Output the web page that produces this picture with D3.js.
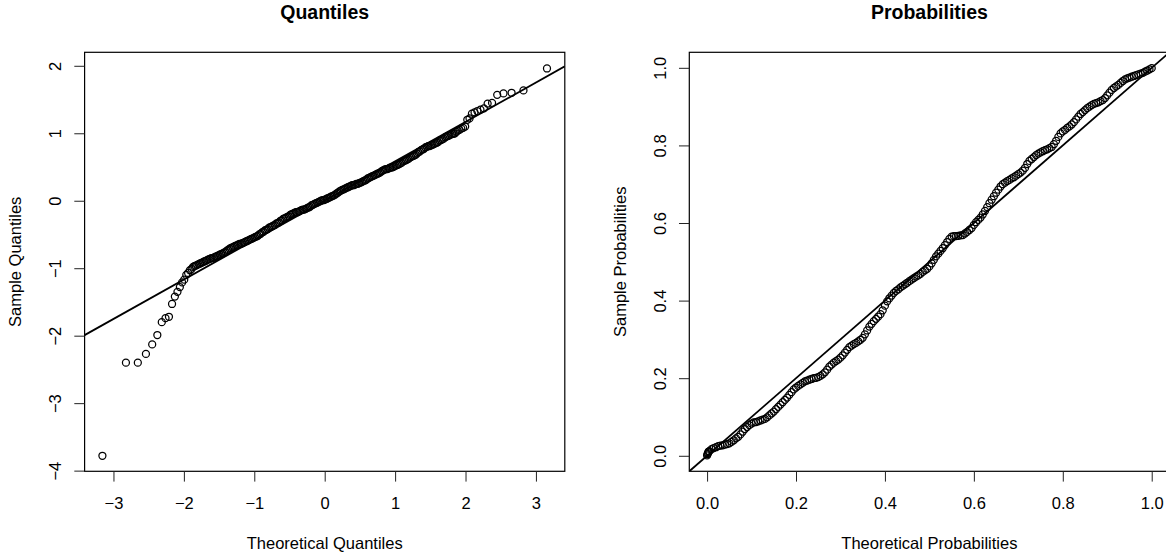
<!DOCTYPE html>
<html>
<head>
<meta charset="utf-8">
<script src="https://cdn.jsdelivr.net/npm/d3@7"></script>
<style>
  html, body { margin: 0; padding: 0; background: #fff; }
  svg { display: block; font-family: "Liberation Sans", Arial, Helvetica, sans-serif; }
</style>
</head>
<body>
<svg id="chart" width="1166" height="555"></svg>
<script>
// ---------------- data ----------------
// Q-Q panel: theoretical quantile (x) and sample quantile (y) of each point
const qqTheoretical = [
  -3.157, -2.823, -2.654, -2.539, -2.450, -2.377, -2.314, -2.261, -2.212, -2.168,
  -2.128, -2.091, -2.057, -2.025, -1.995, -1.966, -1.940, -1.914, -1.890,
  -1.87, -1.85, -1.83, -1.81, -1.79, -1.77, -1.75, -1.73, -1.71, -1.69,
  -1.67, -1.65, -1.63, -1.61, -1.59, -1.57, -1.55, -1.53, -1.51, -1.49,
  -1.47, -1.45, -1.43, -1.41, -1.39, -1.37, -1.35, -1.33, -1.31, -1.29,
  -1.27, -1.25, -1.23, -1.21, -1.19, -1.17, -1.15, -1.13, -1.11, -1.09,
  -1.07, -1.05, -1.03, -1.01, -0.99, -0.97, -0.95, -0.93, -0.91, -0.89,
  -0.87, -0.85, -0.83, -0.81, -0.79, -0.77, -0.75, -0.73, -0.71, -0.69,
  -0.67, -0.65, -0.63, -0.61, -0.59, -0.57, -0.55, -0.53, -0.51, -0.49,
  -0.47, -0.45, -0.43, -0.41, -0.39, -0.37, -0.35, -0.33, -0.31, -0.29,
  -0.27, -0.25, -0.23, -0.21, -0.19, -0.17, -0.15, -0.13, -0.11, -0.09,
  -0.07, -0.05, -0.03, -0.01, 0.01, 0.03, 0.05, 0.07, 0.09, 0.11,
  0.13, 0.15, 0.17, 0.19, 0.21, 0.23, 0.25, 0.27, 0.29, 0.31,
  0.33, 0.35, 0.37, 0.39, 0.41, 0.43, 0.45, 0.47, 0.49, 0.51,
  0.53, 0.55, 0.57, 0.59, 0.61, 0.63, 0.65, 0.67, 0.69, 0.71,
  0.73, 0.75, 0.77, 0.79, 0.81, 0.83, 0.85, 0.87, 0.89, 0.91,
  0.93, 0.95, 0.97, 0.99, 1.01, 1.03, 1.05, 1.07, 1.09, 1.11,
  1.13, 1.15, 1.17, 1.19, 1.21, 1.23, 1.25, 1.27, 1.29, 1.31,
  1.33, 1.35, 1.37, 1.39, 1.41, 1.43, 1.45, 1.47, 1.49, 1.51,
  1.53, 1.55, 1.57, 1.59, 1.61, 1.63, 1.65, 1.67, 1.69, 1.71,
  1.73, 1.75, 1.77, 1.79, 1.81, 1.83, 1.85, 1.87,
  1.890, 1.914, 1.940, 1.966, 1.995, 2.025, 2.057, 2.091, 2.128, 2.168,
  2.212, 2.261, 2.314, 2.377, 2.450, 2.539, 2.654, 2.823, 3.157
];
const qqSample = [
  -3.78, -2.40, -2.40, -2.27, -2.13, -1.99, -1.80, -1.74, -1.72, -1.53,
  -1.42, -1.35, -1.28, -1.21, -1.17, -1.10, -1.07, -1.03, -1.01,
  -0.98, -0.97, -0.96, -0.95, -0.94, -0.93, -0.92, -0.91, -0.90, -0.89,
  -0.88, -0.87, -0.86, -0.85, -0.85, -0.84, -0.83, -0.82, -0.81, -0.80,
  -0.79, -0.78, -0.77, -0.76, -0.74, -0.73, -0.71, -0.70, -0.69, -0.68,
  -0.67, -0.66, -0.65, -0.64, -0.64, -0.63, -0.62, -0.61, -0.60, -0.59,
  -0.58, -0.57, -0.56, -0.55, -0.54, -0.53, -0.52, -0.50, -0.49, -0.47,
  -0.46, -0.44, -0.43, -0.42, -0.40, -0.39, -0.38, -0.37, -0.36, -0.34,
  -0.33, -0.32, -0.30, -0.29, -0.27, -0.26, -0.25, -0.24, -0.23, -0.21,
  -0.20, -0.19, -0.18, -0.17, -0.17, -0.16, -0.15, -0.14, -0.13, -0.13,
  -0.12, -0.11, -0.10, -0.09, -0.07, -0.06, -0.05, -0.04, -0.03, -0.02,
  -0.01, 0.00, 0.01, 0.01, 0.02, 0.03, 0.04, 0.05, 0.06, 0.07,
  0.08, 0.09, 0.11, 0.12, 0.14, 0.15, 0.16, 0.17, 0.18, 0.19,
  0.20, 0.21, 0.22, 0.23, 0.23, 0.24, 0.25, 0.25, 0.26, 0.27,
  0.28, 0.29, 0.30, 0.31, 0.33, 0.34, 0.35, 0.36, 0.37, 0.38,
  0.39, 0.40, 0.41, 0.42, 0.44, 0.45, 0.46, 0.47, 0.47, 0.48,
  0.49, 0.49, 0.50, 0.51, 0.52, 0.53, 0.54, 0.55, 0.56, 0.58,
  0.59, 0.60, 0.61, 0.62, 0.64, 0.65, 0.66, 0.67, 0.68, 0.70,
  0.72, 0.73, 0.75, 0.76, 0.77, 0.79, 0.80, 0.81, 0.81, 0.82,
  0.83, 0.84, 0.85, 0.86, 0.87, 0.89, 0.90, 0.91, 0.92, 0.94,
  0.95, 0.96, 0.97, 0.98, 0.99, 0.99, 1.00, 1.02,
  1.04, 1.05, 1.07, 1.08, 1.10, 1.20, 1.22, 1.29, 1.31, 1.33,
  1.35, 1.37, 1.44, 1.45, 1.57, 1.59, 1.60, 1.635, 1.96
];
const qqLineIntercept = 0.0;
const qqLineSlope = 0.584;

// P-P panel: theoretical probability (x) and sample probability (y) of each point
const ppTheoretical = [
  0.000, 0.001, 0.002, 0.003, 0.004,
  0.005, 0.010, 0.015, 0.020, 0.025, 0.030, 0.035, 0.040, 0.045, 0.050,
  0.055, 0.060, 0.065, 0.070, 0.075, 0.080, 0.085, 0.090, 0.095, 0.100,
  0.105, 0.110, 0.115, 0.120, 0.125, 0.130, 0.135, 0.140, 0.145, 0.150,
  0.155, 0.160, 0.165, 0.170, 0.175, 0.180, 0.185, 0.190, 0.195, 0.200,
  0.205, 0.210, 0.215, 0.220, 0.225, 0.230, 0.235, 0.240, 0.245, 0.250,
  0.255, 0.260, 0.265, 0.270, 0.275, 0.280, 0.285, 0.290, 0.295, 0.300,
  0.305, 0.310, 0.315, 0.320, 0.325, 0.330, 0.335, 0.340, 0.345, 0.350,
  0.355, 0.360, 0.365, 0.370, 0.375, 0.380, 0.385, 0.390, 0.395, 0.400,
  0.405, 0.410, 0.415, 0.420, 0.425, 0.430, 0.435, 0.440, 0.445, 0.450,
  0.455, 0.460, 0.465, 0.470, 0.475, 0.480, 0.485, 0.490, 0.495, 0.500,
  0.505, 0.510, 0.515, 0.520, 0.525, 0.530, 0.535, 0.540, 0.545, 0.550,
  0.555, 0.560, 0.565, 0.570, 0.575, 0.580, 0.585, 0.590, 0.595, 0.600,
  0.605, 0.610, 0.615, 0.620, 0.625, 0.630, 0.635, 0.640, 0.645, 0.650,
  0.655, 0.660, 0.665, 0.670, 0.675, 0.680, 0.685, 0.690, 0.695, 0.700,
  0.705, 0.710, 0.715, 0.720, 0.725, 0.730, 0.735, 0.740, 0.745, 0.750,
  0.755, 0.760, 0.765, 0.770, 0.775, 0.780, 0.785, 0.790, 0.795, 0.800,
  0.805, 0.810, 0.815, 0.820, 0.825, 0.830, 0.835, 0.840, 0.845, 0.850,
  0.855, 0.860, 0.865, 0.870, 0.875, 0.880, 0.885, 0.890, 0.895, 0.900,
  0.905, 0.910, 0.915, 0.920, 0.925, 0.930, 0.935, 0.940, 0.945, 0.950,
  0.955, 0.960, 0.965, 0.970, 0.975, 0.980, 0.985, 0.990, 0.995, 1.000
];
const ppSample = [
  0.001, 0.004, 0.007, 0.010, 0.011,
  0.012, 0.017, 0.020, 0.022, 0.025, 0.026, 0.027, 0.029, 0.030, 0.032,
  0.036, 0.040, 0.045, 0.049, 0.055, 0.062, 0.069, 0.074, 0.079, 0.083,
  0.086, 0.087, 0.089, 0.091, 0.093, 0.095, 0.099, 0.104, 0.109, 0.114,
  0.120, 0.126, 0.132, 0.138, 0.144, 0.150, 0.157, 0.164, 0.171, 0.176,
  0.180, 0.184, 0.188, 0.192, 0.194, 0.196, 0.198, 0.200, 0.201, 0.203,
  0.206, 0.210, 0.215, 0.222, 0.230, 0.235, 0.240, 0.244, 0.248, 0.253,
  0.259, 0.266, 0.273, 0.280, 0.284, 0.288, 0.291, 0.295, 0.299, 0.304,
  0.313, 0.323, 0.333, 0.340, 0.347, 0.353, 0.359, 0.365, 0.375, 0.387,
  0.398, 0.406, 0.413, 0.420, 0.425, 0.429, 0.434, 0.438, 0.442, 0.446,
  0.450, 0.454, 0.458, 0.462, 0.465, 0.469, 0.474, 0.478, 0.482, 0.488,
  0.496, 0.505, 0.514, 0.521, 0.528, 0.535, 0.543, 0.551, 0.559, 0.565,
  0.566, 0.566, 0.567, 0.568, 0.569, 0.573, 0.577, 0.582, 0.587, 0.595,
  0.602, 0.608, 0.614, 0.622, 0.631, 0.641, 0.651, 0.660, 0.669, 0.678,
  0.686, 0.694, 0.700, 0.704, 0.708, 0.711, 0.715, 0.718, 0.722, 0.726,
  0.730, 0.735, 0.742, 0.752, 0.760, 0.765, 0.770, 0.775, 0.779, 0.782,
  0.785, 0.788, 0.790, 0.793, 0.796, 0.803, 0.812, 0.822, 0.831, 0.836,
  0.840, 0.845, 0.849, 0.854, 0.860, 0.867, 0.874, 0.881, 0.886, 0.891,
  0.896, 0.900, 0.904, 0.907, 0.909, 0.911, 0.914, 0.917, 0.922, 0.929,
  0.936, 0.943, 0.948, 0.952, 0.956, 0.961, 0.966, 0.970, 0.973, 0.975,
  0.977, 0.979, 0.981, 0.983, 0.985, 0.987, 0.990, 0.993, 0.996, 0.999
];
const ppLineIntercept = 0;
const ppLineSlope = 1;

const qqXTicks = [-3, -2, -1, 0, 1, 2, 3];
const qqYTicks = [-4, -3, -2, -1, 0, 1, 2];
const ppTicks = [0, 0.2, 0.4, 0.6, 0.8, 1.0];

const titles = ["Quantiles", "Probabilities"];
const xTitles = ["Theoretical Quantiles", "Theoretical Probabilities"];
const yTitles = ["Sample Quantiles", "Sample Probabilities"];

// ---------------- drawing ----------------
const svg = d3.select("#chart");
const plotTop = 52.3, plotBottom = 471.3;
const panels = [
  { left: 84.6, right: 564.8, xDom: [-3.41, 3.41], yDom: [-4.01, 2.20],
    xt: qqXTicks, yt: qqYTicks, fmt: d => d3.format("d")(d).replace("-", "\u2212"),
    xs: qqTheoretical, ys: qqSample, a: qqLineIntercept, b: qqLineSlope },
  { left: 689.3, right: 1169.5, xDom: [-0.04, 1.04], yDom: [-0.04, 1.04],
    xt: ppTicks, yt: ppTicks, fmt: d3.format(".1f"),
    xs: ppTheoretical, ys: ppSample, a: ppLineIntercept, b: ppLineSlope }
];

panels.forEach((p, i) => {
  const x = d3.scaleLinear().domain(p.xDom).range([p.left, p.right]);
  const y = d3.scaleLinear().domain(p.yDom).range([plotBottom, plotTop]);
  const g = svg.append("g");
  const cid = "clip" + i;
  svg.append("clipPath").attr("id", cid).append("rect")
    .attr("x", p.left).attr("y", plotTop).attr("width", p.right - p.left).attr("height", plotBottom - plotTop);

  const n = Math.min(p.xs.length, p.ys.length);
  const data = d3.range(n).map(k => [p.xs[k], p.ys[k]]);
  g.append("g").selectAll("circle").data(data).join("circle")
    .attr("cx", d => x(d[0])).attr("cy", d => y(d[1])).attr("r", 3.5)
    .attr("fill", "none").attr("stroke", "#000").attr("stroke-width", 1.25);

  const x0 = p.xDom[0], x1 = p.xDom[1];
  g.append("line").attr("clip-path", `url(#${cid})`)
    .attr("x1", x(x0)).attr("y1", y(p.a + p.b * x0))
    .attr("x2", x(x1)).attr("y2", y(p.a + p.b * x1))
    .attr("stroke", "#000").attr("stroke-width", 1.8);

  g.append("rect").attr("x", p.left).attr("y", plotTop)
    .attr("width", p.right - p.left).attr("height", plotBottom - plotTop)
    .attr("fill", "none").attr("stroke", "#000").attr("stroke-width", 1.2);

  const xa = g.append("g").attr("transform", `translate(0,${plotBottom})`)
    .call(d3.axisBottom(x).tickValues(p.xt).tickSize(10.3).tickPadding(0).tickFormat(p.fmt));
  const ya = g.append("g").attr("transform", `translate(${p.left},0)`)
    .call(d3.axisLeft(y).tickValues(p.yt).tickSize(10.3).tickPadding(0).tickFormat(p.fmt));
  [xa, ya].forEach(a => {
    a.select(".domain").remove();
    a.selectAll(".tick line").attr("stroke", "#222").attr("stroke-width", 1);
    a.selectAll(".tick text").attr("fill", "#000")
      .style("font-size", "16.5px").style("font-family", '"Liberation Sans", Arial, sans-serif');
  });
  xa.selectAll(".tick text").attr("y", 0).attr("dy", 0)
    .attr("transform", "translate(0,31.4)").attr("dominant-baseline", "central");
  ya.selectAll(".tick text").attr("x", 0).attr("dy", 0)
    .attr("transform", "translate(-23.5,0) rotate(-90)")
    .attr("text-anchor", "middle").attr("dominant-baseline", "auto");

  const cx = (p.left + p.right) / 2;
  svg.append("text").attr("x", cx).attr("y", 19).attr("text-anchor", "middle")
    .style("font-size", "19.5px").style("font-weight", "bold").text(titles[i]);
  svg.append("text").attr("x", cx).attr("y", 542.7).attr("text-anchor", "middle")
    .attr("dominant-baseline", "central").style("font-size", "16.5px").text(xTitles[i]);
  svg.append("text").attr("transform", `translate(${p.left - 63.5},${(plotTop + plotBottom) / 2}) rotate(-90)`)
    .attr("text-anchor", "middle").style("font-size", "16.5px").text(yTitles[i]);
});
</script>
</body>
</html>
